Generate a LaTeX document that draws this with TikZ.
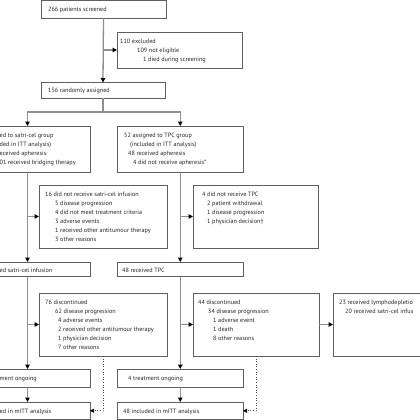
\documentclass[tikz,border=0pt]{standalone}
\usepackage{fontspec}
\setmainfont{PT Sans}
\usetikzlibrary{arrows.meta,fit}
\definecolor{boxgray}{HTML}{5F5F5F}
\definecolor{linegray}{HTML}{8F8F8F}
\begin{document}
\begin{tikzpicture}[x=1pt,y=-1pt,
 box/.style={draw=boxgray, line width=0.8pt, inner sep=0pt, outer sep=0pt, rectangle},
 txt/.style={anchor=mid west, inner sep=0pt, font=\fontsize{6.2}{7}\selectfont, text=black!85},
 conn/.style={draw=linegray, line width=1.3pt},
 arr/.style={conn, -{Triangle[length=4.5pt,width=4.5pt,color=black]}},
 dotarr/.style={draw=black!70, line width=0.6pt, dotted, -{Triangle[length=4pt,width=4pt,color=black]}}]
\fill[white] (0,0) rectangle (420,420);
\useasboundingbox (0,0) rectangle (420,420);
% boxes
\node[box, fit={(41,0.6)(166,18)}] (screen) {};
\node[box, fit={(117,32)(242,68)}] (excl) {};
\node[box, fit={(41,82.5)(165,98)}] (rand) {};
\node[box, fit={(-35,126)(90,172)}] (sat) {};
\node[box, fit={(117.5,126)(243,172)}] (tpc) {};
\node[box, fit={(39,185)(167,248)}] (nosat) {};
\node[box, fit={(193,185)(318.5,248)}] (notpc) {};
\node[box, fit={(-35,262)(90,276.5)}] (satinf) {};
\node[box, fit={(117.5,262)(243,276.5)}] (tpcrec) {};
\node[box, fit={(39,293)(167,356)}] (disc1) {};
\node[box, fit={(193,293)(319,356)}] (disc2) {};
\node[box, fit={(333,293)(460,356)}] (lymph) {};
\node[box, fit={(-35,369)(90,387)}] (ong1) {};
\node[box, fit={(117.5,369)(243,387)}] (ong2) {};
\node[box, fit={(-35,402)(90,419.5)}] (mitt1) {};
\node[box, fit={(117.5,402)(243,419.5)}] (mitt2) {};
% texts
\node[txt] (t266) at (48,9) {266 patients screened};
\node[txt] (t110) at (120,41) {110 excluded};
\node[txt] (t109) at (137,50) {109 not eligible};
\node[txt] (t1d) at (143,59) {1 died during screening};
\node[txt] (t156) at (48,90) {156 randomly assigned};
\node[txt] (ts1) at (-0.5,135) {ed to satri-cel group};
\node[txt] (ts2) at (-0.5,144) {ded in ITT analysis)};
\node[txt] (ts3) at (-0.5,153) {eceived apheresis};
\node[txt] (ts4) at (-0.5,162) {01 received bridging therapy};
\node[txt] (tt1) at (124,135) {52 assigned to TPC group};
\node[txt] (tt2) at (130,144) {(included in ITT analysis)};
\node[txt] (tt3) at (128,153) {48 received apheresis};
\node[txt] (tt4) at (133,162) {4 did not receive apheresis*};
\node[txt] (tn1) at (45,194) {16 did not receive satri-cel infusion};
\node[txt] (tn2) at (55,203) {5 disease progression};
\node[txt] (tn3) at (55,212) {4 did not meet treatment criteria};
\node[txt] (tn4) at (55,221) {3 adverse events};
\node[txt] (tn5) at (55,230) {1 received other antitumour therapy};
\node[txt] (tn6) at (55,239) {3 other reasons};
\node[txt] (tp1) at (202,194) {4 did not receive TPC};
\node[txt] (tp2) at (207,203) {2 patient withdrawal};
\node[txt] (tp3) at (207,212) {1 disease progression};
\node[txt] (tp4) at (207,221) {1 physician decision\textdagger};
\node[txt] (tsi) at (-0.5,270) {ed satri-cel infusion};
\node[txt] (ttr) at (122,270) {48 received TPC};
\node[txt] (td1) at (45,302) {76 discontinued};
\node[txt] (td2) at (55,311) {62 disease progression};
\node[txt] (td3) at (58,320) {4 adverse events};
\node[txt] (td4) at (58,329) {2 received other antitumour therapy};
\node[txt] (td5) at (58,338) {1 physician decision};
\node[txt] (td6) at (58,347) {7 other reasons};
\node[txt] (te1) at (198,302) {44 discontinued};
\node[txt] (te2) at (208,311) {34 disease progression};
\node[txt] (te3) at (213,320) {1 adverse event};
\node[txt] (te4) at (213,329) {1 death};
\node[txt] (te5) at (213,338) {8 other reasons};
\node[txt] (tl1) at (339,302) {23 received lymphodepletio};
\node[txt] (tl2) at (345,311) {20 received satri-cel infus};
\node[txt] (to1) at (-0.5,378) {ment ongoing};
\node[txt] (to2) at (128,378) {4 treatment ongoing};
\node[txt] (tm1) at (-0.5,410.5) {ed in mITT analysis};
\node[txt] (tm2) at (123,410.5) {48 included in mITT analysis};
% connectors
\coordinate (b1) at (screen.south |- excl.west);
\draw[arr] (screen.south) -- (rand.north);
\draw[arr] (b1) -- (excl.west);
\coordinate (split) at ([yshift=-14pt]rand.south);
\draw[conn] (rand.south) -- (split);
\draw[arr] (split) -| (sat.north);
\draw[arr] (split) -| (tpc.north);
\draw[arr] (sat.south) -- (satinf.north);
\coordinate (b2) at (sat.south |- nosat.west);
\draw[arr] (b2) -- (nosat.west);
\draw[arr] (tpc.south) -- (tpcrec.north);
\coordinate (b3) at (tpc.south |- notpc.west);
\draw[arr] (b3) -- (notpc.west);
\draw[arr] (satinf.south) -- (ong1.north);
\coordinate (b4) at (satinf.south |- disc1.west);
\draw[arr] (b4) -- (disc1.west);
\draw[arr] (tpcrec.south) -- (ong2.north);
\coordinate (b5) at (tpcrec.south |- disc2.west);
\draw[arr] (b5) -- (disc2.west);
\draw[arr] (disc2.east) -- (lymph.west);
\draw[arr] (ong1.south) -- (mitt1.north);
\draw[arr] (ong2.south) -- (mitt2.north);
\draw[dotarr] (disc1.south) |- (mitt1.east);
\draw[dotarr] (disc2.south) |- (mitt2.east);
\end{tikzpicture}
\end{document}
